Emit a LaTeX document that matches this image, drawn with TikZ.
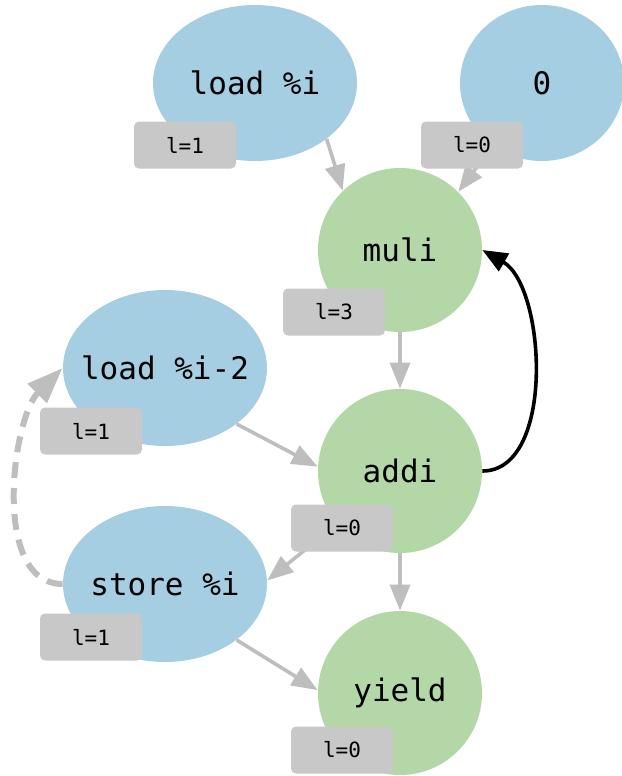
\documentclass[tikz,border=0pt]{standalone}
\usepackage{fontspec}
\setmonofont{DejaVu Sans Mono}
\usepackage{tikz}
\usetikzlibrary{arrows.meta}
\usetikzlibrary{shapes.geometric}

\definecolor{opblue}{RGB}{166,206,227}
\definecolor{opgreen}{RGB}{180,215,168}
\definecolor{tagfill}{RGB}{200,200,200}
\definecolor{edgegray}{RGB}{190,190,190}

\begin{document}
\begin{tikzpicture}[x=0.5pt,y=0.5pt,
		memop/.style={ellipse,fill=opblue,inner xsep=-6pt,inner ysep=0pt,minimum width=102pt,minimum height=78pt,font=\ttfamily\fontsize{15.5}{18}\selectfont},
		aluop/.style={circle,fill=opgreen,inner sep=0pt,minimum size=82pt,font=\ttfamily\fontsize{15.5}{18}\selectfont},
		tag/.style={rectangle,rounded corners=2.5pt,fill=tagfill,inner sep=0pt,minimum width=51pt,minimum height=23.5pt,font=\ttfamily\fontsize{10.5}{12}\selectfont},
		dep/.style={draw=edgegray,line width=1.8pt,-{Triangle[length=13pt,width=10pt]}}]
		\useasboundingbox (0,0) rectangle (621,-776);

		% operations
		\node[memop] (li) at (255,-83) {load \%i};
		\node[memop,minimum width=82pt] (zr) at (542,-83) {0};
		\node[aluop] (mu) at (400,-250) {muli};
		\node[memop] (l2) at (165,-368) {load \%i-2};
		\node[aluop] (ad) at (400,-471) {addi};
		\node[memop] (st) at (165,-584) {store \%i};
		\node[aluop] (yi) at (400,-693) {yield};

		% dependences
		\draw[dep] (li.-38) -- (mu.134);
		\draw[dep] (zr.-128) -- (mu.45);
		\draw[dep] (mu.south) -- (ad.north);
		\draw[dep] (l2.-38) -- (ad.177);
		\draw[dep] (ad.-140) -- (st.2);
		\draw[dep] (ad.south) -- (yi.north);
		\draw[dep] (st.-38) -- (yi.178);
		\draw[line width=1.8pt,-{Triangle[length=12.5pt,width=10pt]}] (ad.east) to[out=0,in=-30,looseness=0.85] (mu.east);
		\draw[edgegray,line width=3pt,dash pattern=on 8pt off 5pt,-{Triangle[length=18pt,width=13pt]}] (st.west) to[out=180,in=-135,looseness=0.85] (l2.west);

		% latencies
		\node[tag] (tli) at (185,-145) {l=1};
		\node[tag] (tzr) at (472,-145) {l=0};
		\node[tag] (tmu) at (334,-312) {l=3};
		\node[tag] (tl2) at (91,-431) {l=1};
		\node[tag] (tad) at (342,-528) {l=0};
		\node[tag] (tst) at (91,-637) {l=1};
		\node[tag] (tyi) at (342,-750) {l=0};
\end{tikzpicture}
\end{document}
